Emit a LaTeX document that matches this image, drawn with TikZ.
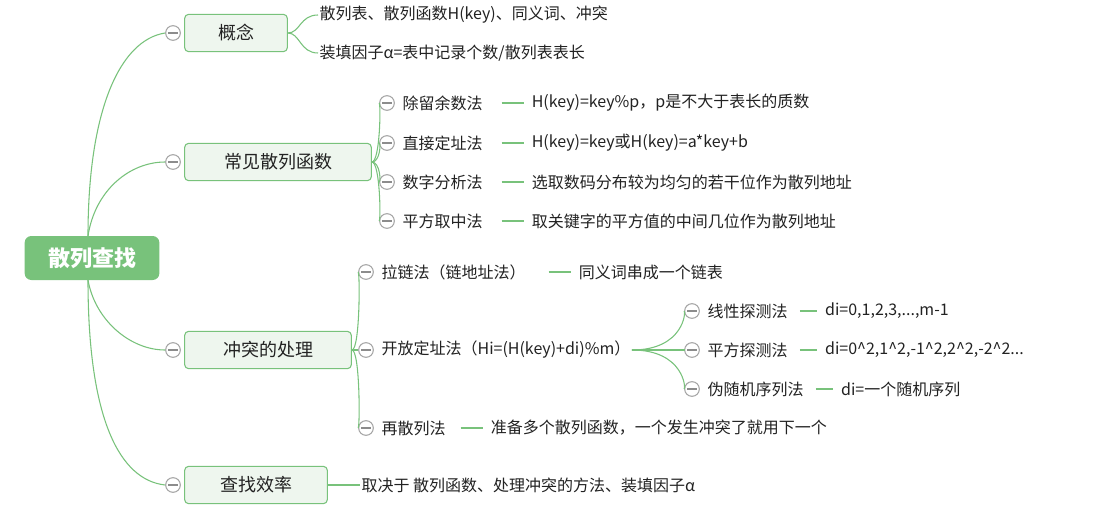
\documentclass[tikz,border=0pt]{standalone}
\usepackage{fontspec}
\setmainfont{Noto Sans CJK SC}
\definecolor{mapgreen}{HTML}{78C27B}
\definecolor{boxfill}{HTML}{EEF6EE}
\definecolor{textgray}{HTML}{222222}
\tikzset{
  rootbox/.style={fill=mapgreen,rounded corners=5pt,text=white,font=\bfseries\fontsize{16.5}{19}\selectfont,minimum width=101pt,minimum height=33pt},
  mainbox/.style={draw=mapgreen,fill=boxfill,rounded corners=3pt,line width=0.8pt,text=textgray,font=\fontsize{13.5}{16}\selectfont,minimum height=28pt,inner xsep=10pt},
  leaf/.style={anchor=west,inner sep=1pt,text=textgray,font=\fontsize{12}{14}\selectfont},
  fold/.style={circle,draw=gray!70,fill=white,line width=0.8pt,minimum size=11pt,inner sep=0pt,path picture={\draw[gray!90,line width=0.8pt] ([xshift=-3.5pt]path picture bounding box.center) -- ([xshift=3.5pt]path picture bounding box.center);}},
  link/.style={draw=mapgreen,line width=0.8pt}
}
\begin{document}
\begin{tikzpicture}[x=0.75pt,y=-0.75pt]
  \useasboundingbox[fill=white] (0,0) rectangle (1102,514);

  % root
  \node[rootbox] (root) at (92,258) {散列查找};

  % main branches
  \node[mainbox,minimum width=77pt] (concept) at (236,33) {概念};
  \node[mainbox,minimum width=140pt] (func) at (278,162) {常见散列函数};
  \node[mainbox,minimum width=125pt] (conflict) at (268,350) {冲突的处理};
  \node[mainbox,minimum width=107pt] (effic) at (256,485) {查找效率};
  \node[fold] (f1) at (173,33) {};
  \node[fold] (f2) at (173,162) {};
  \node[fold] (f3) at (173,350) {};
  \node[fold] (f4) at (173,485) {};

  \draw[link] (88,236) .. controls (88,110) and (120,40) .. (f1.west);
  \draw[link] (88,236) .. controls (95,190) and (130,162) .. (f2.west);
  \draw[link] (88,280) .. controls (95,320) and (130,350) .. (f3.west);
  \draw[link] (88,280) .. controls (88,420) and (120,480) .. (f4.west);

  % concept
  \node[leaf] (c1) at (318,15) {散列表、散列函数H(key)、同义词、冲突};
  \node[leaf] (c2) at (318,53) {装填因子α=表中记录个数/散列表表长};
  \draw[link] (concept.east) .. controls (300,33) and (300,15) .. (c1.west);
  \draw[link] (concept.east) .. controls (300,33) and (300,53) .. (c2.west);

  % hash functions
  \foreach \y/\name/\txt/\desc in {103/h1/除留余数法/{H(key)=key\%p，p是不大于表长的质数},
      143/h2/直接定址法/{H(key)=key或H(key)=a*key+b},
      182/h3/数字分析法/{选取数码分布较为均匀的若干位作为散列地址},
      221/h4/平方取中法/{取关键字的平方值的中间几位作为散列地址}} {
    \node[fold] (\name f) at (387,\y) {};
    \node[leaf] (\name) at (401,\y) {\txt};
    \draw[link] ([xshift=13pt]\name.east) -- ++(22,0) coordinate (\name e);
    \node[leaf] (\name d) at ([xshift=5pt]\name e) {\desc};
    \draw[link] (func.east) .. controls (380,162) and (381,\y) .. (\name f.west);
  }

  % conflict handling
  \node[fold] (k1f) at (366,272) {};
  \node[fold] (k2f) at (366,350) {};
  \node[fold] (k3f) at (366,428) {};
  \node[leaf] (k1) at (380,272) {拉链法（链地址法）};
  \node[leaf] (k2) at (380,350) {开放定址法（Hi=(H(key)+di)\%m）};
  \node[leaf] (k3) at (380,428) {再散列法};
  \draw[link] (conflict.east) .. controls (360,350) and (360,272) .. (k1f.west);
  \draw[link] (conflict.east) -- (k2f.west);
  \draw[link] (conflict.east) .. controls (360,350) and (360,428) .. (k3f.west);
  \draw[link] ([xshift=16pt]k1.east) -- ++(22,0) coordinate (k1e);
  \node[leaf] (k1d) at ([xshift=5pt]k1e) {同义词串成一个链表};
  \draw[link] ([xshift=10pt]k3.east) -- ++(22,0) coordinate (k3e);
  \node[leaf] (k3d) at ([xshift=5pt]k3e) {准备多个散列函数，一个发生冲突了就用下一个};

  % open addressing
  \foreach \y/\name/\txt/\desc in {311/p1/线性探测法/{di=0,1,2,3,...,m-1},
      350/p2/平方探测法/{di=0\^{}2,1\^{}2,-1\^{}2,2\^{}2,-2\^{}2...},
      389/p3/伪随机序列法/{di=一个随机序列}} {
    \node[fold] (\name f) at (692,\y) {};
    \node[leaf] (\name) at (706,\y) {\txt};
    \draw[link] ([xshift=8pt]\name.east) -- ++(17,0) coordinate (\name e);
    \node[leaf] (\name d) at ([xshift=5pt]\name e) {\desc};
    \draw[link] (k2.east) .. controls (684,350) and (686,\y) .. (\name f.west);
  }

  % efficiency
  \node[leaf] (e1) at (360,485) {取决于 散列函数、处理冲突的方法、装填因子α};
  \draw[link] (effic.east) -- (e1.west);
\end{tikzpicture}
\end{document}
